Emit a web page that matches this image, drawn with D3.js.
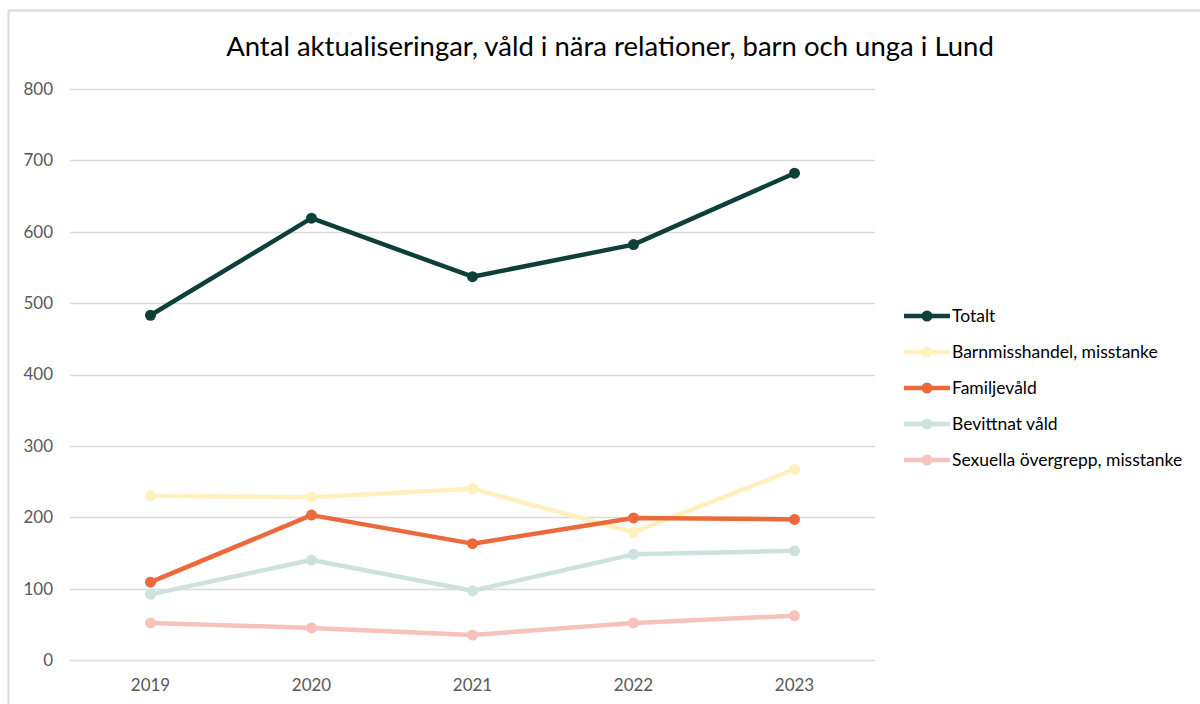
<!DOCTYPE html>
<html><head><meta charset="utf-8">
<script src="https://cdn.jsdelivr.net/npm/d3@7"></script>
<style>html,body{margin:0;padding:0;background:#fff;}svg{display:block;}</style>
</head><body>
<svg id="c" width="1200" height="704"></svg>
<script>
const title = "Antal aktualiseringar, våld i nära relationer, barn och unga i Lund";
const years = ["2019","2020","2021","2022","2023"];
const yTicks = [0,100,200,300,400,500,600,700,800];
const seriesNames = ["Totalt","Barnmisshandel, misstanke","Familjevåld","Bevittnat våld","Sexuella övergrepp, misstanke"];
const totalt = [483, 619, 537, 582, 682];
const barnmisshandel = [230, 228, 240, 179, 267];
const familjevald = [109, 203, 163, 199, 197];
const bevittnat = [92, 140, 97, 148, 153];
const sexuella = [52, 45, 35, 52, 62];
const colors = ["#0f3f3a","#fff0be","#ea6a3b","#cde2df","#f6c2bc"];

const seriesValues = [totalt, barnmisshandel, familjevald, bevittnat, sexuella];
const svg = d3.select("#c");
const font = "Lato, 'Open Sans', sans-serif";

// frame
svg.append("line").attr("x1",8.5).attr("x2",1200).attr("y1",10.5).attr("y2",10.5).attr("stroke","#d9d9d9").attr("stroke-width",2);
svg.append("line").attr("x1",8.5).attr("x2",8.5).attr("y1",10.5).attr("y2",704).attr("stroke","#d9d9d9").attr("stroke-width",2);

const x = d3.scaleBand().domain(years).range([70, 875]);
const y = d3.scaleLinear().domain([0,800]).range([660, 89]);

// gridlines
svg.append("g").selectAll("line").data(yTicks).join("line")
  .attr("x1",70).attr("x2",875)
  .attr("y1",d=>Math.round(y(d))+0.5).attr("y2",d=>Math.round(y(d))+0.5)
  .attr("stroke","#d9d9d9").attr("stroke-width",1.5);

// y labels
const yAxis = d3.axisLeft(y).tickValues(yTicks).tickSize(0).tickPadding(0);
const gy = svg.append("g").attr("transform","translate(53,0)").call(yAxis);
gy.select(".domain").remove();
gy.selectAll("text").attr("font-family",font).attr("font-size",17).attr("fill","#595959");

// x labels
const xAxis = d3.axisBottom(x).tickSize(0).tickPadding(0);
const gx = svg.append("g").attr("transform","translate(0,679)").call(xAxis);
gx.select(".domain").remove();
gx.selectAll("text").attr("font-family",font).attr("font-size",17).attr("fill","#595959").attr("dy","0.71em").attr("y",0);

// title
svg.append("text").attr("x",610).attr("y",56).attr("text-anchor","middle")
  .attr("font-family",font).attr("font-size",27.5).attr("fill","#000").text(title);

const line = d3.line().x((d,i)=>x(years[i])+x.bandwidth()/2).y(d=>y(d));

seriesValues.forEach((vals, si) => {
  const g = svg.append("g");
  g.append("path").attr("d", line(vals)).attr("fill","none")
    .attr("stroke", colors[si]).attr("stroke-width", 4.5).attr("stroke-linejoin","round");
  g.selectAll("circle").data(vals).join("circle")
    .attr("cx",(d,i)=>x(years[i])+x.bandwidth()/2).attr("cy",d=>y(d)).attr("r",5.5)
    .attr("fill",colors[si]);
});

// legend
const leg = svg.append("g");
const legY = [316, 352, 388, 424, 460];
seriesNames.forEach((name, i) => {
  const g = leg.append("g").attr("transform",`translate(904,${legY[i]})`);
  g.append("line").attr("x1",0).attr("x2",46).attr("y1",0).attr("y2",0).attr("stroke",colors[i]).attr("stroke-width",4.5);
  g.append("circle").attr("cx",23).attr("cy",0).attr("r",5.5).attr("fill",colors[i]);
  g.append("text").attr("x",48).attr("y",0).attr("dy","0.35em").attr("font-family",font).attr("font-size",17.5).attr("fill","#000").text(name);
});
</script>
</body></html>
